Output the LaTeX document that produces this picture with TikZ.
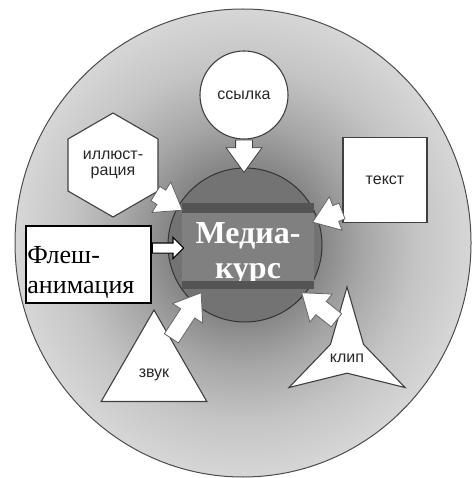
\documentclass[tikz,border=0pt]{standalone}
\usepackage{fontspec}
\setmainfont{Liberation Serif}
\setsansfont{Liberation Sans}
\usetikzlibrary{shapes.geometric,shapes.arrows,calc}

\pgfdeclareradialshading{haloshade}{\pgfpoint{0bp}{0bp}}{%
  color(0bp)=(black!50); color(8.5bp)=(black!47); color(13bp)=(black!35);
  color(19bp)=(black!23); color(25bp)=(black!16); color(50bp)=(black!16)}

% block arrow from #2 to #3
\newcommand{\blockfeed}[3][]{%
  \path let \p1=($(#3)-(#2)$), \n1={atan2(\y1,\x1)}, \n2={veclen(\x1,\y1)} in
    node[blockarr, #1, minimum height=\n2, rotate=\n1, anchor=tail] at (#2) {};%
}

\begin{document}
\begin{tikzpicture}[x=1pt, y=-1pt,
    item/.style={draw=black!75, line width=1.1pt, fill=white, inner sep=0pt,
      font=\sffamily\fontsize{16}{16}\selectfont, text=black!85, align=center},
    itemtext/.style={font=\sffamily\fontsize{16}{16}\selectfont, text=black!85, inner sep=0pt},
    blockarr/.style={single arrow, draw=black!60, line width=0.8pt, fill=white,
      inner xsep=0pt, inner ysep=8pt, single arrow head extend=9.5pt,
      single arrow tip angle=72},
    stripe/.style={fill=black!67}]
  \useasboundingbox (0,0) rectangle (475,478);

  % Outer halo
  \shadedraw[shading=haloshade, draw=black!70, line width=1pt]
    (243,243) ellipse [x radius=228, y radius=234];

  % Core
  \node[circle, draw=black!80, line width=1pt, fill=black!55, minimum size=154pt] (core) at (245,245) {};
  \fill[black!50] (182,203) rectangle (314,289);
  \node[text=white, font=\bfseries\fontsize{32}{35}\selectfont, align=center, inner sep=0pt] (title) at (248,253.5) {Медиа-\\курс};
  \fill[stripe] (182,203) rectangle (314,213);
  \fill[stripe] (182,281) rectangle (314,289);

  % Media items
  \node[item, circle, minimum size=88pt] (link) at (244,95) {ссылка};
  \node[item, regular polygon, regular polygon sides=6, shape border rotate=90, minimum size=104pt] (illus) at (113,165) {иллюст-\\рация};
  \node[item, minimum width=84pt, minimum height=85pt] (text) at (385,180) {текст};
  \node[item, regular polygon, regular polygon sides=3, minimum size=122pt] (sound) at (154,371) {};
  \node[itemtext] (soundlabel) at ([yshift=-4pt]sound.center) {звук};
  \node[item, star, star points=3, star point ratio=3.5, minimum size=134pt] (clip) at (347,354) {};
  \node[itemtext] (cliplabel) at ([yshift=-4pt]clip.center) {клип};

  % Flash box
  \node[draw=black, line width=1.5pt, fill=white, minimum width=125pt, minimum height=77pt] (flash) at (88.5,264.5) {};
  \node[font=\rmfamily\fontsize{26}{30}\selectfont, align=left, anchor=west, inner sep=0pt] (flashtext) at ([xshift=2pt, yshift=-8pt]flash.west) {Флеш-\\анимация};

  % Arrow ends
  \coordinate (linktip) at (244,172);
  \coordinate (illustip) at (182,210);
  \coordinate (texttip) at (313,222);
  \coordinate (soundtip) at (201,293);
  \coordinate (cliptip) at (302,293);
  \coordinate (flashtail) at ([yshift=16.5pt]flash.east);
  \coordinate (flashtip) at (183,248);

  % Arrows into the core
  \blockfeed[draw=black!75]{link.south}{linktip}
  \blockfeed{illus.-34}{illustip}
  \blockfeed{text.-144.5}{texttip}
  \blockfeed{sound.62}{soundtip}
  \blockfeed{clip.107}{cliptip}
  \blockfeed[draw=black, line width=1.2pt, inner ysep=4.5pt, single arrow head extend=5.5pt, single arrow tip angle=90]{flashtail}{flashtip}
\end{tikzpicture}
\end{document}
